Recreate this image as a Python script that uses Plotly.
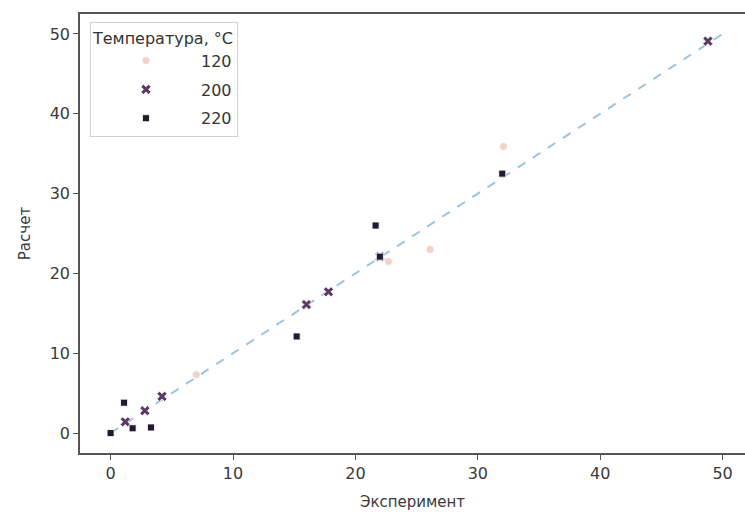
import plotly.graph_objects as go

# Data
t120_x = [7.0, 22.7, 26.1, 32.1]
t120_y = [7.3, 21.5, 23.0, 35.9]

t200_x = [1.2, 2.8, 4.2, 16.0, 17.8, 22.0, 48.8]
t200_y = [1.4, 2.8, 4.6, 16.1, 17.7, 22.1, 49.1]

t220_x = [0.0, 1.1, 1.8, 3.3, 15.2, 21.65, 22.0, 32.0]
t220_y = [0.0, 3.8, 0.6, 0.7, 12.1, 26.0, 22.1, 32.5]

line_x = [0, 50]
line_y = [0, 50]

tick_vals = [0, 10, 20, 30, 40, 50]

FONT = "DejaVu Sans"

fig = go.Figure()

fig.add_trace(go.Scatter(
    x=line_x, y=line_y, mode="lines",
    line=dict(color="#9cc3df", width=2, dash="dash"),
    showlegend=False, hoverinfo="skip"))

fig.add_trace(go.Scatter(
    x=t120_x, y=t120_y, mode="markers", name="120", legendgroup="a",
    marker=dict(symbol="circle", size=8, color="#efd3c8",
                line=dict(color="white", width=0.8))))
fig.add_trace(go.Scatter(
    x=t200_x, y=t200_y, mode="markers", name="200", legendgroup="b",
    marker=dict(symbol="x", size=9, color="#5c3a66",
                line=dict(color="white", width=0.8))))
fig.add_trace(go.Scatter(
    x=t220_x, y=t220_y, mode="markers", name="220", legendgroup="c",
    marker=dict(symbol="square", size=7, color="#231a30",
                line=dict(color="white", width=0.8))))

axis_common = dict(
    showgrid=False, zeroline=False, showline=True, linecolor="#555",
    linewidth=1.5, ticks="outside", ticklen=5, tickwidth=1.2,
    tickcolor="#555", tickfont=dict(family=FONT, size=16, color="#3a3a3a"),
    tickvals=tick_vals, automargin=False)

fig.update_layout(
    width=745, height=513,
    margin=dict(l=80, r=0, t=14, b=60),
    paper_bgcolor="white", plot_bgcolor="white",
    font=dict(family=FONT),
    xaxis=dict(range=[-2.5, 51.83], mirror=True,
               title=dict(text="Эксперимент", font=dict(family=FONT, size=15, color="#3a3a3a")),
               **axis_common),
    yaxis=dict(range=[-2.5, 52.5], mirror=False,
               title=dict(text="Расчет", font=dict(family=FONT, size=15, color="#3a3a3a")),
               **axis_common),
    legend=dict(
        x=0.015, y=0.982, xanchor="left", yanchor="top",
        bgcolor="rgba(255,255,255,0.85)", bordercolor="#d0d0d0", borderwidth=1,
        title=dict(text="Температура, °C", font=dict(family=FONT, size=16, color="#333")),
        font=dict(family=FONT, size=16, color="#333"),
        itemwidth=100, tracegroupgap=5),
)

fig.write_html("out.html", config={"displayModeBar": False},
               post_script="document.body.style.margin='0px';")
